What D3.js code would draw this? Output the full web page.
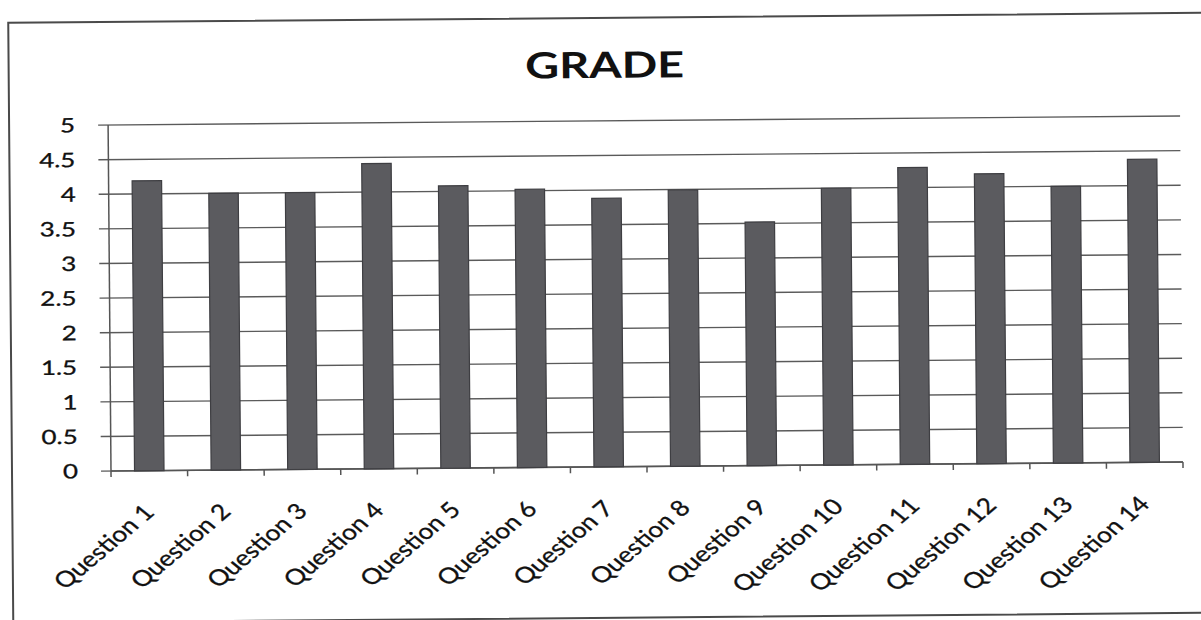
<!DOCTYPE html>
<html><head><meta charset="utf-8">
<script src="https://cdn.jsdelivr.net/npm/d3@7"></script>
<style>html,body{margin:0;padding:0;background:#fff;} svg{display:block;}</style>
</head><body>
<svg id="chart" width="1201" height="620"></svg>
<script>
const chartTitle = "GRADE";
const categories = ["Question 1","Question 2","Question 3","Question 4","Question 5","Question 6","Question 7",
  "Question 8","Question 9","Question 10","Question 11","Question 12","Question 13","Question 14"];
const grades = [4.19, 4.0, 4.0, 4.41, 4.08, 4.02, 3.88, 3.99, 3.52, 4.0, 4.29, 4.19, 4.0, 4.38];
const yTicks = [0, 0.5, 1, 1.5, 2, 2.5, 3, 3.5, 4, 4.5, 5];
const yTickLabels = ["0","0.5","1","1.5","2","2.5","3","3.5","4","4.5","5"];

const svg = d3.select("#chart");
svg.append("rect").attr("width", 1201).attr("height", 620).attr("fill", "#fff");

const plotLeft = 111, plotRight = 1183, plotTop = 125, plotBottom = 471;
const stretch = 1.3;
const g = svg.append("g").attr("transform", `rotate(-0.48, ${plotLeft}, ${plotBottom})`);

// outer frame
g.append("rect").attr("x", 12).attr("y", 22).attr("width", 1260).attr("height", 600)
  .attr("fill", "none").attr("stroke", "#4a4a4a").attr("stroke-width", 2);

const x = d3.scaleBand().domain(categories).range([plotLeft, plotRight]).paddingInner(0.615).paddingOuter(0.3075);
const y = d3.scaleLinear().domain([0, 5]).range([plotBottom, plotTop]);

// gridlines (with left tick stubs)
g.append("g").selectAll("line").data(yTicks).join("line")
  .attr("x1", plotLeft - 10).attr("x2", plotRight)
  .attr("y1", d => y(d)).attr("y2", d => y(d))
  .attr("stroke", "#5a5a5a").attr("stroke-width", 1.4);

// y axis line
g.append("line").attr("x1", plotLeft).attr("x2", plotLeft).attr("y1", y(5)).attr("y2", y(0))
  .attr("stroke", "#555").attr("stroke-width", 1.5);

// x axis ticks at band boundaries
const boundaries = d3.range(categories.length + 1).map(i => x.range()[0] + i * x.step());
g.append("g").selectAll("line").data(boundaries).join("line")
  .attr("x1", d => d).attr("x2", d => d).attr("y1", y(0)).attr("y2", y(0) + 6)
  .attr("stroke", "#555").attr("stroke-width", 1.5);
g.append("line").attr("x1", plotLeft).attr("x2", plotRight).attr("y1", y(0)).attr("y2", y(0))
  .attr("stroke", "#555").attr("stroke-width", 1.6);

// bars
g.append("g").selectAll("rect").data(grades).join("rect")
  .attr("x", (d, i) => x(categories[i]))
  .attr("width", x.bandwidth())
  .attr("y", d => y(d))
  .attr("height", d => y(0) - y(d))
  .attr("fill", "#5b5b5f").attr("stroke", "#3e3e42").attr("stroke-width", 1.2);

// y labels
g.append("g").selectAll("text").data(yTicks).join("text")
  .attr("transform", d => `translate(78, ${y(d)}) scale(${stretch},1)`)
  .attr("dy", "0.36em").attr("text-anchor", "end")
  .attr("font-family", "Lato, 'Open Sans', sans-serif").attr("font-size", 20)
  .attr("fill", "#111").attr("stroke", "#111").attr("stroke-width", 0.3)
  .text((d, i) => yTickLabels[i]);

// x labels
g.append("g").selectAll("text").data(categories).join("text")
  .attr("transform", d => `translate(${x(d) + x.bandwidth() / 2 + 6}, ${y(0) + 43}) scale(1.2,1) rotate(-45)`)
  .attr("text-anchor", "end")
  .attr("font-family", "Lato, 'Open Sans', sans-serif").attr("font-size", 22)
  .attr("fill", "#111").attr("stroke", "#111").attr("stroke-width", 0.3)
  .text(d => d);

// title
g.append("text")
  .attr("transform", `translate(608, 82) scale(${stretch},1)`)
  .attr("text-anchor", "middle")
  .attr("font-family", "Lato, 'Open Sans', sans-serif").attr("font-weight", "bold").attr("font-size", 36)
  .attr("fill", "#111")
  .text(chartTitle);
</script>
</body></html>
